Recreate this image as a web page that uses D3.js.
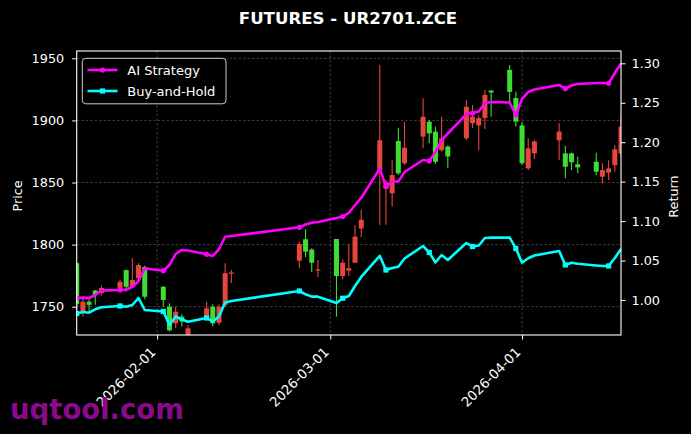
<!DOCTYPE html>
<html><head><meta charset="utf-8">
<script src="https://cdn.jsdelivr.net/npm/d3@7"></script>
<style>
html,body{margin:0;padding:0;background:#000;}
svg{display:block;}
text{font-family:"DejaVu Sans", sans-serif;}
</style></head><body>
<svg id="chart" width="691" height="434"></svg>
<script>
const chartTitle = "FUTURES - UR2701.ZCE";
const dates = ["2026-01-19","2026-01-20","2026-01-21","2026-01-22","2026-01-23",
"2026-01-26","2026-01-27","2026-01-28","2026-01-29","2026-01-30",
"2026-02-02","2026-02-03","2026-02-04","2026-02-05","2026-02-06",
"2026-02-09","2026-02-10","2026-02-11","2026-02-12","2026-02-13",
"2026-02-24","2026-02-25","2026-02-26","2026-02-27",
"2026-03-02","2026-03-03","2026-03-04","2026-03-05","2026-03-06",
"2026-03-09","2026-03-10","2026-03-11","2026-03-12","2026-03-13",
"2026-03-16","2026-03-17","2026-03-18","2026-03-19","2026-03-20",
"2026-03-23","2026-03-24","2026-03-25","2026-03-26","2026-03-27",
"2026-03-30","2026-03-31","2026-04-01","2026-04-02","2026-04-03",
"2026-04-07","2026-04-08","2026-04-09","2026-04-10",
"2026-04-13","2026-04-14","2026-04-15","2026-04-16","2026-04-17"];
const open = [1785,1746,1754,1763,1761, 1765,1779.5,1766,1773,1782, 1766,1750,1736.6,1742,1722, 1742,1750,1737,1751.4,1776.5, 1787,1804.3,1796,1779, 1804.5,1774.7,1779,1785.4,1813, 1860,1845,1841.3,1883.4,1865.5, 1887,1899,1891,1876,1879, 1885.6,1897.7,1896,1902,1924, 1940.7,1918,1896,1861.4,1873.5, 1884,1873.5,1873.5,1864.7, 1866.7,1854.7,1858,1864,1873.5];
const high = [1786,1758,1756,1763.5,1767, 1771.5,1780,1789,1785,1783, 1766.7,1752.7,1750,1744,1735, 1754,1752,1752,1785,1779.5, 1802.3,1812.3,1797,1787.6, 1804.5,1788,1800.5,1815.8,1828, 1944.6,1852,1868,1894,1899, 1917.8,1900.3,1895,1903,1880, 1916.4,1912.4,1904,1924.6,1924.5, 1944.6,1923,1899,1885.6,1884.5, 1897.7,1879.4,1874,1870.8, 1874,1865.5,1868,1880,1903];
const low = [1748,1742,1745,1751.5,1759, 1762,1762,1765.5,1771.5,1756, 1750,1730,1732.6,1734,1720, 1739,1734,1735,1750,1769, 1781,1790,1778,1774, 1742,1772,1774.7,1785,1806, 1815.8,1816,1830.5,1856,1864, 1877.5,1881.6,1865,1874.8,1861.4, 1884,1893.6,1876,1893,1903, 1915,1895,1864,1860,1869, 1868,1853.4,1860,1857.4, 1856,1849.4,1852,1858.7,1870];
const close = [1752,1754,1751.5,1759.5,1765, 1770,1766,1771.5,1783.5,1758, 1755.4,1731,1746,1738,1732.6, 1748.7,1736.6,1750,1777,1777.5, 1800.5,1794.3,1785.4,1780, 1774.7,1785.4,1781,1806.4,1820, 1884,1850,1856,1857.4,1878, 1903,1889.6,1866.7,1885.6,1871, 1911,1903,1902,1920.5,1922.5, 1923,1899,1865.5,1877.5,1883, 1891,1862.7,1866.3,1862.2, 1858.7,1860,1861.4,1876.7,1895];
const aiReturn = [1.0025,1.003,1.0025,1.0063,1.0118, 1.0127,1.0133,1.0165,1.024,1.040, 1.0371,1.0444,1.0583,1.0634,1.0627, 1.0579,1.0558,1.0643,1.0802,1.0811, 1.0921,1.0957,1.098,1.0989, 1.104,1.1058,1.1103,1.1204,1.1293, 1.1667,1.1439,1.1502,1.1502,1.1622, 1.1774,1.1762,1.1876,1.2028,1.211, 1.2357,1.237,1.2389,1.2497,1.251, 1.2503,1.2345,1.2548,1.2636,1.2668, 1.2725,1.268,1.2719,1.2738, 1.275,1.275,1.2747,1.2877,1.2997];
const bhReturn = [0.9829,0.9848,0.9839,0.9882,0.9907, 0.9924,0.9915,0.9937,1.0025,0.9873, 0.9854,0.9683,0.9791,0.9753,0.9725, 0.9772,0.9728,0.9791,0.9968,0.9987, 1.0114,1.0072,1.0042,1.0042, 0.9962,1.0022,1.0051,1.0177,1.0292, 1.0558,1.038,1.0406,1.0422,1.0526, 1.0684,1.0602,1.0475,1.057,1.0507, 1.0722,1.0678,1.0691,1.0786,1.079, 1.079,1.0653,1.0473,1.0529,1.0564, 1.0621,1.0444,1.0473,1.046, 1.0437,1.0431,1.0431,1.0532,1.0646];
const seriesNames = ["AI Strategy","Buy-and-Hold"];
const priceTicks = [1750,1800,1850,1900,1950];
const returnTicks = [1.00,1.05,1.10,1.15,1.20,1.25,1.30];
const dateTicks = ["2026-02-01","2026-03-01","2026-04-01"];
const watermark = "uqtool.com";

const parse = d3.timeParse("%Y-%m-%d");
const L = 76.7, R = 621, T = 51, B = 335;
const svg = d3.select("#chart");
svg.append("rect").attr("width",691).attr("height",434).attr("fill","#000");

const x = d3.scaleTime().domain([parse(dates[0]), parse(dates[dates.length-1])]).range([L, R]);
const yP = d3.scaleLinear().domain([1727.2, 1955.9]).range([B, T]);
const yR = d3.scaleLinear().domain([0.9556, 1.3156]).range([B, T]);

svg.append("defs").append("clipPath").attr("id","clip")
  .append("rect").attr("x",L).attr("y",T).attr("width",R-L).attr("height",B-T);

// grid
const grid = svg.append("g");
grid.selectAll("line.h").data(priceTicks).join("line")
  .attr("x1",L).attr("x2",R).attr("y1",d=>yP(d)).attr("y2",d=>yP(d))
  .attr("stroke","#6a6a6a").attr("stroke-width",0.6).attr("stroke-dasharray","2.5,2");
grid.selectAll("line.v").data(dateTicks).join("line")
  .attr("y1",T).attr("y2",B).attr("x1",d=>x(parse(d))).attr("x2",d=>x(parse(d)))
  .attr("stroke","#6a6a6a").attr("stroke-width",0.6).attr("stroke-dasharray","2.5,2");

// candles
const up = "#e6463c", down = "#40dc36";
const plot = svg.append("g").attr("clip-path","url(#clip)");
const cdata = dates.map((d,i)=>({d:parse(d),o:open[i],h:high[i],l:low[i],c:close[i]}));
const bw = 5;
const cg = plot.selectAll("g.c").data(cdata).join("g");
cg.append("line").attr("x1",d=>x(d.d)).attr("x2",d=>x(d.d))
  .attr("y1",d=>yP(d.h)).attr("y2",d=>yP(d.l))
  .attr("stroke",d=>d.c>=d.o?up:down).attr("stroke-width",1.1);
cg.append("rect").attr("x",d=>x(d.d)-bw/2).attr("width",bw)
  .attr("y",d=>yP(Math.max(d.o,d.c)))
  .attr("height",d=>Math.max(1,Math.abs(yP(d.o)-yP(d.c))))
  .attr("fill",d=>d.c>=d.o?up:down);

// lines
const series = [
  {name:seriesNames[0], vals:aiReturn, color:"#ff00ff", marker:"circle"},
  {name:seriesNames[1], vals:bhReturn, color:"#00ffff", marker:"square"}
];
const line = d3.line().x((v,i)=>x(parse(dates[i]))).y(v=>yR(v));
series.forEach(s=>{
  plot.append("path").attr("d",line(s.vals)).attr("fill","none")
    .attr("stroke",s.color).attr("stroke-width",2.6).attr("stroke-linejoin","round");
  const pts = s.vals.map((v,i)=>({v,i})).filter(p=>p.i%5===0);
  if(s.marker==="circle"){
    plot.selectAll(null).data(pts).join("circle")
      .attr("cx",p=>x(parse(dates[p.i]))).attr("cy",p=>yR(p.v)).attr("r",2.6).attr("fill",s.color);
  } else {
    plot.selectAll(null).data(pts).join("rect")
      .attr("x",p=>x(parse(dates[p.i]))-2.6).attr("y",p=>yR(p.v)-2.6)
      .attr("width",5.2).attr("height",5.2).attr("fill",s.color);
  }
});

// frame
svg.append("rect").attr("x",L).attr("y",T).attr("width",R-L).attr("height",B-T)
  .attr("fill","none").attr("stroke","#fff").attr("stroke-width",1.1);

// axes
function styleAxis(g){
  g.select(".domain").remove();
  g.selectAll(".tick line").attr("stroke","#fff").attr("stroke-width",1);
  g.selectAll(".tick text").attr("fill","#fff").style("font-size","12.8px").style("font-family","DejaVu Sans");
}
svg.append("g").attr("transform",`translate(${L},0)`)
  .call(d3.axisLeft(yP).tickValues(priceTicks).tickFormat(d3.format("d")).tickSize(4.5).tickPadding(8))
  .call(styleAxis);
svg.append("g").attr("transform",`translate(${R},0)`)
  .call(d3.axisRight(yR).tickValues(returnTicks).tickFormat(d3.format(".2f")).tickSize(4.5).tickPadding(6))
  .call(styleAxis);
const xa = svg.append("g").attr("transform",`translate(0,${B})`)
  .call(d3.axisBottom(x).tickValues(dateTicks.map(parse)).tickFormat(d3.timeFormat("%Y-%m-%d")).tickSize(4.5))
  .call(styleAxis);
xa.selectAll(".tick text").attr("x",0).attr("y",0).attr("dy",0)
  .style("font-size","13.3px")
  .attr("text-anchor","end").attr("transform","translate(-1,18) rotate(-45)");

// axis labels
svg.append("text").attr("transform","translate(21.5,196) rotate(-90)").attr("text-anchor","middle")
  .attr("fill","#fff").style("font-size","12.8px").text("Price");
svg.append("text").attr("transform","translate(678,196.5) rotate(-90)").attr("text-anchor","middle")
  .attr("fill","#fff").style("font-size","12.8px").text("Return");

// title
svg.append("text").attr("x",348).attr("y",24).attr("text-anchor","middle")
  .attr("fill","#fff").style("font-size","16.6px").style("font-weight","bold").text(chartTitle);

// legend
const lg = svg.append("g");
lg.append("rect").attr("x",82.3).attr("y",58.3).attr("width",143.7).attr("height",45.5)
  .attr("rx",3.5).attr("fill","#000").attr("fill-opacity",0.8).attr("stroke","#cccccc").attr("stroke-width",1);
series.forEach((s,i)=>{
  const yy = 70 + i*21;
  lg.append("line").attr("x1",87.5).attr("x2",117.5).attr("y1",yy).attr("y2",yy)
    .attr("stroke",s.color).attr("stroke-width",2.6);
  if(s.marker==="circle") lg.append("circle").attr("cx",102.5).attr("cy",yy).attr("r",2.6).attr("fill",s.color);
  else lg.append("rect").attr("x",99.9).attr("y",yy-2.6).attr("width",5.2).attr("height",5.2).attr("fill",s.color);
  lg.append("text").attr("x",127.3).attr("y",yy).attr("dy","0.35em").attr("fill","#fff")
    .style("font-size","13px").text(s.name);
});

// watermark
svg.append("text").attr("x",10).attr("y",419).attr("fill","#8b0a8b")
  .style("font-size","27.5px").style("font-weight","bold").text(watermark);
</script>
</body></html>
